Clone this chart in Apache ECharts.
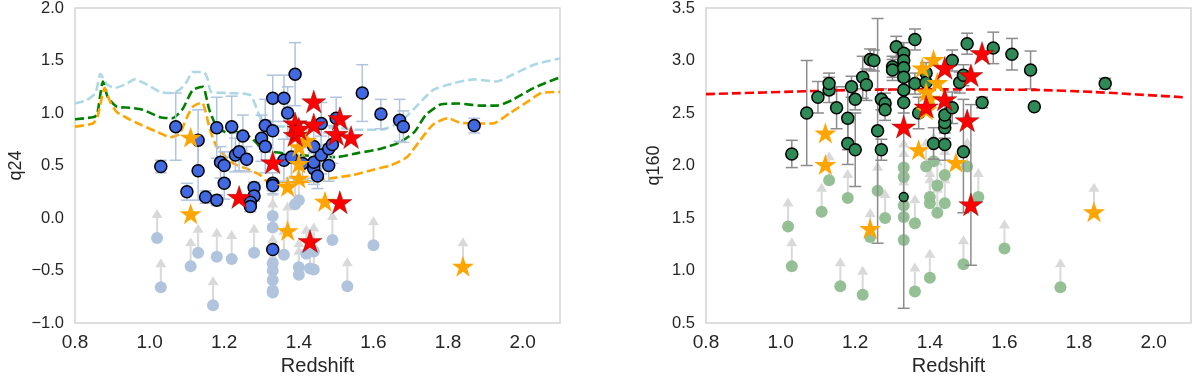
<!DOCTYPE html>
<html>
<head>
<meta charset="utf-8"/>
<title>q24 / q160 vs Redshift</title>
<script src="https://cdn.jsdelivr.net/npm/echarts@6/dist/echarts.min.js"></script>
<style>
    html, body {margin: 0; padding: 0; background: #fff;}
    #main {width: 1200px; height: 376px;}
</style>
</head>
<body>
<div id="main"></div>
<script>
// ---------- left panel: q24 ----------
let q24DetX   = [1.03,1.07,1.10,1.13,1.13,1.15,1.18,1.18,1.19,1.20,1.20,1.22,1.23,1.24,1.25,1.26,1.28,1.28,1.27,1.27,1.30,1.31,1.31,1.33,1.33,1.33,1.33,1.33,1.36,1.37,1.39,1.36,1.38,1.41,1.44,1.44,1.45,1.44,1.46,1.48,1.48,1.49,1.44,1.46,1.50,1.57,1.62,1.67,1.68,1.87];
let q24DetY   = [0.49,0.87,0.25,0.74,0.45,0.20,0.86,0.17,0.53,0.50,0.33,0.87,0.60,0.63,0.78,0.56,0.29,0.21,0.15,0.11,0.76,0.68,0.88,0.83,1.14,0.33,0.31,-0.30,1.14,1.00,1.37,0.55,0.58,0.52,0.50,0.47,0.40,0.53,0.60,0.50,0.66,0.70,0.68,0.90,0.95,1.19,0.99,0.93,0.87,0.88];
let q24DetErr = [0.06,0.32,0.08,0.29,0.28,0.06,0.29,0.05,0.15,0.13,0.15,0.29,0.16,0.18,0.20,0.12,0.05,0.05,0.05,0.05,0.22,0.25,0.25,0.30,0.22,0.10,0.05,0.00,0.22,0.25,0.30,0.20,0.20,0.15,0.15,0.15,0.12,0.15,0.18,0.15,0.15,0.18,0.20,0.20,0.20,0.27,0.14,0.20,0.15,0.07];

let q24RedX = [1.39,1.39,1.40,1.44,1.44,1.51,1.50,1.54,1.33,1.24,1.51,1.43];
let q24RedY = [0.90,0.79,0.85,1.11,0.89,0.95,0.80,0.77,0.53,0.20,0.15,-0.22];

let q24OrgX = [1.11,1.11,1.37,1.47,1.40,1.40,1.37,1.42,1.40,1.84];
let q24OrgY = [0.77,0.04,-0.12,0.16,0.52,0.38,0.30,0.74,0.68,-0.46];

let q24LimX = [1.02,1.03,1.11,1.13,1.17,1.18,1.22,1.28,1.33,1.33,1.33,1.33,1.33,1.33,1.33,1.36,1.39,1.40,1.40,1.42,1.44,1.43,1.44,1.49,1.53,1.60,1.40];
let q24LimY = [-0.19,-0.66,-0.46,-0.33,-0.83,-0.37,-0.39,-0.33,0.02,-0.09,-0.43,-0.50,-0.59,-0.69,-0.71,-0.35,0.13,-0.47,-0.54,-0.34,-0.32,-0.48,-0.49,-0.21,-0.65,-0.26,0.17];
let q24StarLimX = [1.37,1.84];
let q24StarLimY = [-0.12,-0.46];

let lightBlueX = [0.80,0.83,0.855,0.868,0.886,0.907,0.934,0.96,0.993,1.028,1.055,1.08,1.10,1.115,1.145,1.155,1.165,1.21,1.27,1.296,1.32,1.40,1.50,1.556,1.62,1.67,1.706,1.76,1.81,1.87,1.93,1.97,2.03,2.10];
let lightBlueY = [1.09,1.12,1.19,1.37,1.27,1.24,1.27,1.32,1.27,1.20,1.19,1.22,1.30,1.39,1.39,1.33,1.20,1.19,1.17,0.96,0.88,0.87,0.86,0.84,0.84,0.91,1.03,1.22,1.28,1.32,1.30,1.36,1.46,1.52];
let greenX = [0.80,0.848,0.859,0.875,0.888,0.912,0.947,0.982,1.028,1.06,1.087,1.116,1.143,1.152,1.16,1.18,1.21,1.23,1.27,1.29,1.30,1.40,1.50,1.56,1.62,1.67,1.71,1.74,1.78,1.83,1.886,1.93,1.97,2.03,2.10];
let greenY = [0.94,0.96,0.98,1.30,1.15,1.06,1.05,1.03,0.96,0.95,1.03,1.22,1.25,1.15,1.03,0.87,0.81,0.82,0.77,0.70,0.65,0.60,0.58,0.62,0.66,0.72,0.82,0.98,1.08,1.09,1.07,1.07,1.12,1.24,1.34];
let orangeX = [0.80,0.848,0.86,0.88,0.895,0.912,0.94,0.975,1.02,1.055,1.08,1.10,1.116,1.14,1.162,1.18,1.224,1.26,1.296,1.315,1.40,1.49,1.545,1.60,1.645,1.69,1.725,1.76,1.80,1.83,1.87,1.92,1.966,2.01,2.05,2.10];
let orangeY = [0.87,0.90,0.96,1.24,1.10,1.01,0.95,0.89,0.82,0.77,0.80,0.96,1.06,1.10,0.84,0.68,0.52,0.47,0.41,0.35,0.34,0.38,0.41,0.46,0.50,0.58,0.74,0.89,0.95,0.91,0.90,0.90,1.00,1.10,1.19,1.20];

// ---------- right panel: q160 ----------
let q160DetX  = [1.03,1.07,1.10,1.13,1.13,1.15,1.18,1.18,1.20,1.19,1.20,1.22,1.23,1.24,1.25,1.26,1.27,1.27,1.28,1.28,1.30,1.30,1.31,1.33,1.33,1.33,1.33,1.33,1.33,1.36,1.36,1.39,1.39,1.37,1.41,1.44,1.44,1.44,1.44,1.46,1.46,1.48,1.49,1.49,1.50,1.54,1.57,1.62,1.67,1.68,1.87];
let q160DetY  = [2.11,2.50,2.65,2.72,2.78,2.55,2.45,2.21,2.15,2.75,2.63,2.84,2.77,3.01,3.00,2.33,2.15,2.63,2.59,2.53,2.94,2.91,3.13,3.07,3.00,2.93,2.84,2.72,2.60,3.20,2.78,2.88,2.79,2.50,2.21,2.20,2.36,2.41,2.48,2.55,3.00,2.79,2.86,2.13,3.16,2.60,3.12,3.06,2.91,2.56,2.78];
let q160DetLo = [0.13,0.50,0.15,0.12,0.10,0.20,0.30,0.20,0.35,0.10,0.10,0.20,0.15,0.10,0.10,1.07,0.10,0.10,0.10,0.10,0.10,0.10,0.10,0.10,0.10,0.10,0.10,0.10,0.10,0.10,0.10,0.10,0.10,0.15,0.15,0.15,0.10,0.10,0.10,0.15,0.10,0.10,0.10,0.58,0.10,0.05,0.15,0.15,0.18,0.00,0.05];
let q160DetHi = [0.13,0.50,0.15,0.12,0.10,0.20,0.30,0.20,0.35,0.10,0.10,0.20,0.15,0.10,0.10,1.07,0.10,0.10,0.10,0.10,0.10,0.10,0.10,0.10,0.10,0.10,0.10,0.10,0.10,0.10,0.10,0.10,0.10,0.15,0.15,0.15,0.10,0.10,0.10,0.15,0.10,0.10,0.10,0.50,0.10,0.05,0.15,0.15,0.18,0.00,0.05];
let q160FaintX = [1.33];
let q160FaintY = [1.70];
let q160FaintLo = [1.06];
let q160FaintHi = [1.10];

let q160RedX  = [1.54,1.51,1.44,1.44,1.39,1.33,1.50,1.51];
let q160RedY  = [3.07,2.86,2.93,2.63,2.56,2.37,2.43,1.63];
let q160RedLo = [0.00,0.00,0.00,0.00,0.00,0.00,0.00,0.58];
let q160RedHi = [0.00,0.00,0.00,0.00,0.00,0.00,0.00,0.95];

let q160OrgX = [1.12,1.12,1.24,1.38,1.41,1.39,1.42,1.40,1.39,1.37,1.47,1.84];
let q160OrgY = [2.31,2.01,1.40,2.93,3.01,2.70,2.79,2.64,2.53,2.15,2.03,1.56];

let q160LimX = [1.02,1.03,1.11,1.13,1.16,1.18,1.22,1.24,1.26,1.28,1.33,1.33,1.33,1.33,1.33,1.36,1.36,1.40,1.39,1.42,1.42,1.44,1.44,1.40,1.40,1.49,1.53,1.60,1.75,1.50,1.41];
let q160LimY = [1.42,1.04,1.56,1.86,0.85,1.69,0.77,1.32,1.76,1.50,1.98,1.89,1.62,1.51,1.29,1.45,0.80,0.93,1.99,1.81,1.55,1.91,1.64,1.70,1.64,1.06,1.70,1.21,0.84,1.99,2.04];
let q160StarLimX = [1.84];
let q160StarLimY = [1.56];

let q160FitX = [0.80,1.10,1.20,1.40,1.68,1.84,2.08];
let q160FitY = [2.68,2.71,2.72,2.725,2.72,2.70,2.65];

let xTicks = [0.8, 1.0, 1.2, 1.4, 1.6, 1.8, 2.0];

// ---------- helpers ----------
const STAR = 'path://M50,0 L61.23,34.55 L97.55,34.55 L68.17,55.9 L79.39,90.45 L50,69.1 L20.61,90.45 L31.83,55.9 L2.45,34.55 L38.77,34.55 Z';
const FONT = 'Liberation Sans, Arial, sans-serif';
const TXT = '#262626';

function pairs(xs, ys) { return xs.map((x, i) => [x, ys[i]]); }
function errRows(xs, ys, lo, hi) { return xs.map((x, i) => [x, ys[i] - lo[i], ys[i] + hi[i]]); }
function numFmt(v) { return (v < 0 ? '\u2212' : '') + Math.abs(v).toFixed(1); }

function errRender(color) {
    return function (params, api) {
        let x = api.value(0);
        let top = api.coord([x, api.value(2)]);
        let bot = api.coord([x, api.value(1)]);
        let w = 6;
        let st = {stroke: color, lineWidth: 1.5};
        return {
            type: 'group', children: [
                {type: 'line', shape: {x1: top[0], y1: top[1], x2: bot[0], y2: bot[1]}, style: st},
                {type: 'line', shape: {x1: top[0] - w, y1: top[1], x2: top[0] + w, y2: top[1]}, style: st},
                {type: 'line', shape: {x1: bot[0] - w, y1: bot[1], x2: bot[0] + w, y2: bot[1]}, style: st}
            ]
        };
    };
}

function arrowRender(params, api) {
    let p = api.coord([api.value(0), api.value(1)]);
    let len = 29, hw = 5.5, hh = 9;
    return {
        type: 'group', children: [
            {type: 'line', shape: {x1: p[0], y1: p[1], x2: p[0], y2: p[1] - len + hh}, style: {stroke: '#d9d9d9', lineWidth: 2}},
            {type: 'polygon', shape: {points: [[p[0], p[1] - len], [p[0] - hw, p[1] - len + hh], [p[0] + hw, p[1] - len + hh]]}, style: {fill: '#d9d9d9'}}
        ]
    };
}

function xAxisCfg(idx) {
    return {
        gridIndex: idx, type: 'value', min: 0.8, max: 2.1, interval: 0.2,
        name: 'Redshift', nameLocation: 'middle', nameGap: 31,
        nameTextStyle: {fontSize: 20, color: TXT, fontFamily: FONT},
        axisLine: {show: false}, axisTick: {show: false}, splitLine: {show: false},
        axisLabel: {fontSize: 19, color: TXT, fontFamily: FONT, margin: 10, showMaxLabel: false,
            formatter: v => xTicks.some(t => Math.abs(t - v) < 1e-6) ? numFmt(v) : ''}
    };
}

function yAxisCfg(idx, name, min, max, gap) {
    return {
        gridIndex: idx, type: 'value', min: min, max: max, interval: 0.5,
        name: name, nameLocation: 'middle', nameGap: gap, nameRotate: 90,
        nameTextStyle: {fontSize: 18, color: TXT, fontFamily: FONT},
        axisLine: {show: false}, axisTick: {show: false}, splitLine: {show: false},
        axisLabel: {fontSize: 16.5, color: TXT, fontFamily: FONT, margin: 11, formatter: numFmt}
    };
}

function dashLine(xs, ys, color, ai, z) {
    return {
        type: 'line', xAxisIndex: ai, yAxisIndex: ai, data: pairs(xs, ys), showSymbol: false, z: z,
        smooth: 0.2, lineStyle: {color: color, width: 2.6, type: [9, 4]}, silent: true
    };
}

let myChart = echarts.init(document.getElementById('main'), null, {renderer: 'canvas'});
let option = {
    animation: false,
    backgroundColor: '#ffffff',
    grid: [
        {left: 75, top: 8, width: 485, height: 315, show: true, borderColor: '#d4d4d4', borderWidth: 1.5, outerBoundsMode: 'none', containLabel: false},
        {left: 706, top: 8, width: 485, height: 315, show: true, borderColor: '#d4d4d4', borderWidth: 1.5, outerBoundsMode: 'none', containLabel: false}
    ],
    xAxis: [xAxisCfg(0), xAxisCfg(1)],
    yAxis: [yAxisCfg(0, 'q24', -1.0, 2.0, 50), yAxisCfg(1, 'q160', 0.5, 3.5, 43)],
    series: [
        // left panel
        {type: 'custom', xAxisIndex: 0, yAxisIndex: 0, renderItem: arrowRender, clip: true, z: 1,
            data: pairs(q24LimX, q24LimY).concat(pairs(q24StarLimX, q24StarLimY))},
        {type: 'scatter', xAxisIndex: 0, yAxisIndex: 0, data: pairs(q24LimX, q24LimY), symbolSize: 12, z: 2,
            itemStyle: {color: '#b0c4de', opacity: 1}},
        dashLine(lightBlueX, lightBlueY, '#add8e6', 0, 3),
        dashLine(greenX, greenY, '#007f00', 0, 3),
        dashLine(orangeX, orangeY, '#ffa500', 0, 3),
        {type: 'custom', xAxisIndex: 0, yAxisIndex: 0, renderItem: errRender('#b0c4de'), clip: true, z: 4,
            data: errRows(q24DetX, q24DetY, q24DetErr, q24DetErr)},
        {type: 'scatter', xAxisIndex: 0, yAxisIndex: 0, data: pairs(q24DetX, q24DetY), symbolSize: 12, z: 5,
            itemStyle: {color: '#4169e1', borderColor: '#000', borderWidth: 1.5, opacity: 1}},
        {type: 'scatter', xAxisIndex: 0, yAxisIndex: 0, data: pairs(q24OrgX, q24OrgY), symbol: STAR, symbolKeepAspect: true, symbolSize: 22, z: 6,
            itemStyle: {color: '#ffa500', opacity: 1}},
        {type: 'scatter', xAxisIndex: 0, yAxisIndex: 0, data: pairs(q24RedX, q24RedY), symbol: STAR, symbolKeepAspect: true, symbolSize: 24, z: 7,
            itemStyle: {color: '#ff0000', borderColor: 'rgba(90,0,0,0.6)', borderWidth: 0.6, opacity: 1}},

        // right panel
        {type: 'custom', xAxisIndex: 1, yAxisIndex: 1, renderItem: arrowRender, clip: true, z: 1,
            data: pairs(q160LimX, q160LimY).concat(pairs(q160StarLimX, q160StarLimY))},
        {type: 'scatter', xAxisIndex: 1, yAxisIndex: 1, data: pairs(q160LimX, q160LimY), symbolSize: 12, z: 2,
            itemStyle: {color: '#8fbc8f', opacity: 0.95}},
        {type: 'custom', xAxisIndex: 1, yAxisIndex: 1, renderItem: errRender('#8c8c8c'), clip: true, z: 4,
            data: errRows(q160DetX, q160DetY, q160DetLo, q160DetHi)
                .concat(errRows(q160FaintX, q160FaintY, q160FaintLo, q160FaintHi))
                .concat(errRows(q160RedX, q160RedY, q160RedLo, q160RedHi))},
        dashLine(q160FitX, q160FitY, '#ff0000', 1, 4),
        {type: 'scatter', xAxisIndex: 1, yAxisIndex: 1, data: pairs(q160DetX, q160DetY), symbolSize: 12, z: 5,
            itemStyle: {color: '#2e8b57', borderColor: '#000', borderWidth: 1.5, opacity: 1}},
        {type: 'scatter', xAxisIndex: 1, yAxisIndex: 1, data: pairs(q160FaintX, q160FaintY), symbolSize: 9, z: 5,
            itemStyle: {color: '#2e8b57', borderColor: '#000', borderWidth: 1.3, opacity: 1}},
        {type: 'scatter', xAxisIndex: 1, yAxisIndex: 1, data: pairs(q160OrgX, q160OrgY), symbol: STAR, symbolKeepAspect: true, symbolSize: 22, z: 6,
            itemStyle: {color: '#ffa500', opacity: 1}},
        {type: 'scatter', xAxisIndex: 1, yAxisIndex: 1, data: pairs(q160RedX, q160RedY), symbol: STAR, symbolKeepAspect: true, symbolSize: 24, z: 7,
            itemStyle: {color: '#ff0000', borderColor: 'rgba(90,0,0,0.6)', borderWidth: 0.6, opacity: 1}}
    ]
};
myChart.setOption(option);
</script>
</body>
</html>
